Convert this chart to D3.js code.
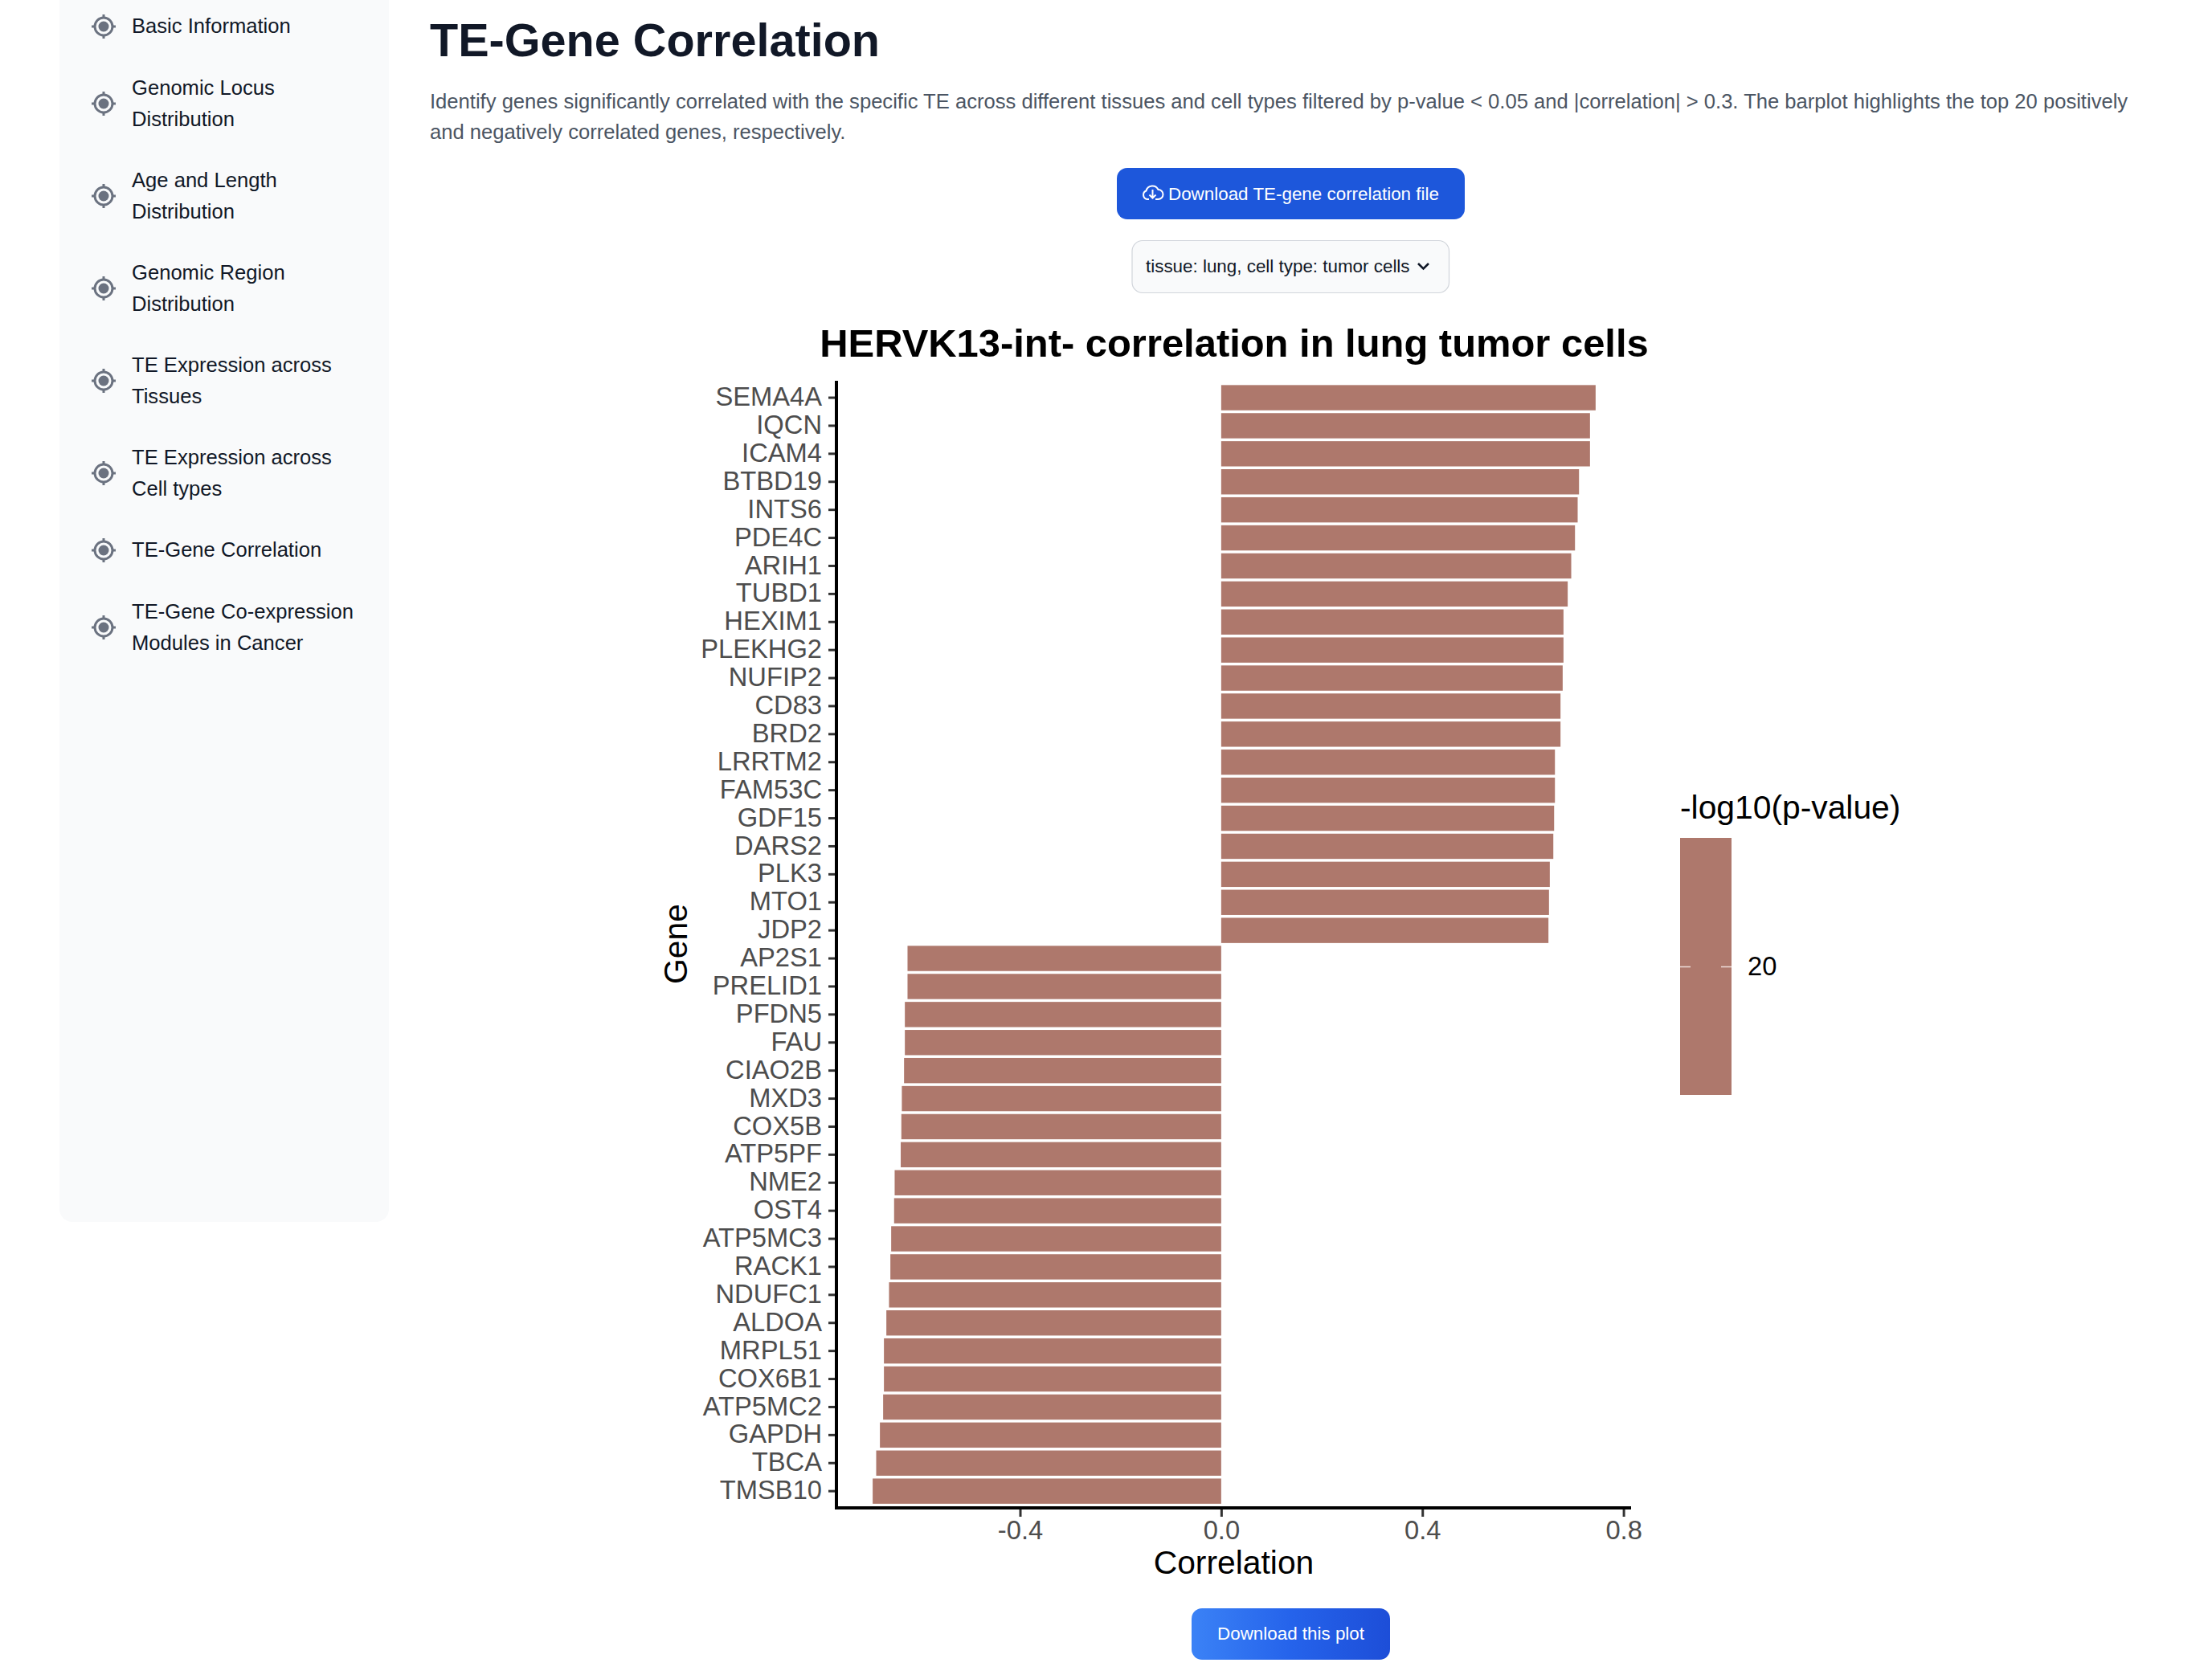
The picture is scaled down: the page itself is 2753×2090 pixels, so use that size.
<!DOCTYPE html>
<html><head><meta charset="utf-8">
<script src="https://cdn.jsdelivr.net/npm/d3@7/dist/d3.min.js"></script>
<style>
html,body{margin:0;padding:0;background:#fff;width:2753px;height:2090px;overflow:hidden}
svg{display:block}
</style></head><body>
<svg id="page" width="2753" height="2090"></svg>
<script>
const genes = ["SEMA4A","IQCN","ICAM4","BTBD19","INTS6","PDE4C","ARIH1","TUBD1","HEXIM1","PLEKHG2","NUFIP2","CD83","BRD2","LRRTM2","FAM53C","GDF15","DARS2","PLK3","MTO1","JDP2","AP2S1","PRELID1","PFDN5","FAU","CIAO2B","MXD3","COX5B","ATP5PF","NME2","OST4","ATP5MC3","RACK1","NDUFC1","ALDOA","MRPL51","COX6B1","ATP5MC2","GAPDH","TBCA","TMSB10"];
const correlations = [0.7445,0.7333,0.7333,0.7115,0.7088,0.7035,0.696,0.689,0.6806,0.6806,0.679,0.6747,0.6747,0.6636,0.6636,0.662,0.6604,0.6534,0.6518,0.6507,-0.6237,-0.6237,-0.629,-0.629,-0.6306,-0.635,-0.636,-0.6372,-0.6493,-0.6504,-0.6562,-0.6578,-0.6605,-0.6658,-0.6706,-0.6706,-0.6722,-0.6786,-0.686,-0.693];
const xTicks = [-0.4,0,0.4,0.8];
const navItems = [["Basic Information"],["Genomic Locus","Distribution"],["Age and Length","Distribution"],["Genomic Region","Distribution"],["TE Expression across","Tissues"],["TE Expression across","Cell types"],["TE-Gene Correlation"],["TE-Gene Co-expression","Modules in Cancer"]];
const navY = [33,129,244,359,474,589,685,781];
const legendTicks = [20];

const svg = d3.select("#page");
const UI = "'Liberation Sans', Arial, sans-serif", RF = "'Liberation Sans', Arial, sans-serif";
const barColor = "#ae786c";

// sidebar
svg.append("path").attr("d","M74,0H484V1505a16,16 0 0 1 -16,16H90a16,16 0 0 1 -16,-16Z").attr("fill","#f9fafb");
const nav = svg.append("g").selectAll("g").data(navItems).join("g").attr("transform",(d,i)=>`translate(0,${navY[i]})`);
nav.append("circle").attr("cx",129).attr("cy",0).attr("r",11).attr("fill","none").attr("stroke","#6b7280").attr("stroke-width",3);
nav.append("circle").attr("cx",129).attr("cy",0).attr("r",6.5).attr("fill","#6b7280");
nav.append("path").attr("d","M129,-15V-11M129,11V15M114,0H118M140,0H144").attr("stroke","#6b7280").attr("stroke-width",3);
nav.each(function(d){
  const g=d3.select(this);
  d.forEach((t,i)=>g.append("text").attr("x",164).attr("y",(d.length===1?8:-11)+i*38.5).attr("font-family",UI).attr("font-size",25.6).attr("fill","#111827").text(t));
});

// header
svg.append("text").attr("x",535).attr("y",70).attr("font-family",UI).attr("font-size",57.6).attr("font-weight",700).attr("fill","#111827").text("TE-Gene Correlation");
svg.append("text").attr("x",535).attr("y",135).attr("font-family",UI).attr("font-size",25.6).attr("fill","#4b5563").text("Identify genes significantly correlated with the specific TE across different tissues and cell types filtered by p-value < 0.05 and |correlation| > 0.3. The barplot highlights the top 20 positively");
svg.append("text").attr("x",535).attr("y",173).attr("font-family",UI).attr("font-size",25.6).attr("fill","#4b5563").text("and negatively correlated genes, respectively.");

// download button
svg.append("rect").attr("x",1390).attr("y",209).attr("width",433).attr("height",64).attr("rx",13).attr("fill","#1d57db");
svg.append("path").attr("d","M1430,248h-2.500a5.500,5.500 0 0 1 -1,-10.500a8,8 0 0 1 15,-1.500a6,6 0 0 1 0,12h-3.500M1434.500,236v10m-4,-3.500l4,4l4,-4").attr("fill","none").attr("stroke","#fff").attr("stroke-width",2);
svg.append("text").attr("x",1454).attr("y",249).attr("font-family",UI).attr("font-size",22.4).attr("fill","#fff").text("Download TE-gene correlation file");

// select
svg.append("rect").attr("x",1409).attr("y",299.5).attr("width",394.500).attr("height",65).attr("rx",13).attr("fill","#f9fafb").attr("stroke","#d1d5db").attr("stroke-width",1.2);
svg.append("text").attr("x",1426).attr("y",339).attr("font-family",UI).attr("font-size",22.4).attr("fill","#111827").text("tissue: lung, cell type: tumor cells");
svg.append("path").attr("d","M1765,328l6.500,6.500l6.500,-6.500").attr("fill","none").attr("stroke","#111827").attr("stroke-width",2.6);

// chart
const x = d3.scaleLinear().domain([-0.4,0.8]).range([1269.5,2020.6]);
const y = d3.scaleBand().domain(genes).range([477.6,1873.6]).paddingInner(0.1).paddingOuter(0.05);
const chart = svg.append("g");
chart.append("g").selectAll("rect").data(genes).join("rect")
  .attr("x",(d,i)=>Math.min(x(0),x(correlations[i]))).attr("width",(d,i)=>Math.abs(x(correlations[i])-x(0)))
  .attr("y",d=>y(d)).attr("height",y.bandwidth()).attr("fill",barColor);

const yAxis = chart.append("g").attr("transform","translate(1041,0)").call(d3.axisLeft(y).tickSize(10).tickPadding(8));
yAxis.select(".domain").remove();
yAxis.selectAll("line").attr("stroke","#333").attr("stroke-width",3);
yAxis.selectAll("text").attr("font-family",RF).attr("font-size",32.7).attr("fill","#4d4d4d").attr("dy","0.31em");

const xAxis = chart.append("g").attr("transform","translate(0,1877)").call(d3.axisBottom(x).tickValues(xTicks).tickSize(11).tickPadding(5).tickFormat(d=>d3.format(".1f")(d).replace("\u2212","-")));
xAxis.select(".domain").remove();
xAxis.selectAll("line").attr("stroke","#333").attr("stroke-width",3);
xAxis.selectAll("text").attr("font-family",RF).attr("font-size",32.7).attr("fill","#4d4d4d");
chart.append("line").attr("x1",1041).attr("x2",1041).attr("y1",474).attr("y2",1878.5).attr("stroke","#000").attr("stroke-width",4);
chart.append("line").attr("x1",1039).attr("x2",2030).attr("y1",1877).attr("y2",1877).attr("stroke","#000").attr("stroke-width",4);

chart.append("text").attr("x",1536).attr("y",444).attr("text-anchor","middle").attr("font-family",RF).attr("font-size",48.9).attr("font-weight",700).attr("fill","#000").text("HERVK13-int- correlation in lung tumor cells");
chart.append("text").attr("x",1535.500).attr("y",1959).attr("text-anchor","middle").attr("font-family",RF).attr("font-size",40.8).attr("fill","#000").text("Correlation");
chart.append("text").attr("transform","translate(855,1175) rotate(-90)").attr("text-anchor","middle").attr("font-family",RF).attr("font-size",40.8).attr("fill","#000").text("Gene");

// legend
const lg = chart.append("g");
lg.append("text").attr("x",2091).attr("y",1019).attr("font-family",RF).attr("font-size",40.8).attr("fill","#000").text("-log10(p-value)");
lg.append("rect").attr("x",2091).attr("y",1043).attr("width",64).attr("height",320).attr("fill",barColor);
const ly = d3.scaleLinear().domain([20,20]).range([1203.5,1203.5]);
legendTicks.forEach(t=>{
  lg.append("path").attr("d",`M2091,${ly(t)}h13M2142,${ly(t)}h13`).attr("stroke","#f0dcd8").attr("stroke-width",1.5);
  lg.append("text").attr("x",2175).attr("y",ly(t)+10).attr("font-family",RF).attr("font-size",32.7).attr("fill","#000").text(t);
});

// plot button
const grad = svg.append("defs").append("linearGradient").attr("id","btn");
grad.append("stop").attr("offset","0").attr("stop-color","#3b82f6");
grad.append("stop").attr("offset","0.5").attr("stop-color","#2563eb");
grad.append("stop").attr("offset","1").attr("stop-color","#1d4ed8");
svg.append("rect").attr("x",1483).attr("y",2002).attr("width",247).attr("height",64).attr("rx",13).attr("fill","url(#btn)");
svg.append("text").attr("x",1606.5).attr("y",2041).attr("text-anchor","middle").attr("font-family",UI).attr("font-size",22.4).attr("fill","#fff").text("Download this plot");
</script>
</body></html>
